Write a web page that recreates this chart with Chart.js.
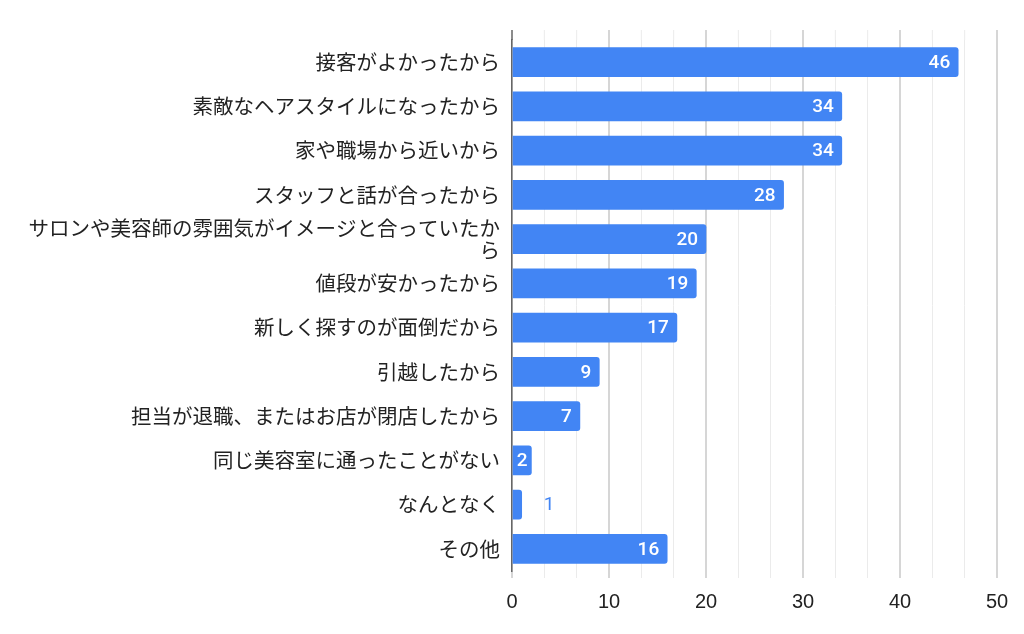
<!DOCTYPE html>
<html>
<head>
<meta charset="utf-8">
<script src="https://cdn.jsdelivr.net/npm/chart.js@4"></script>
<style>
  html, body { margin: 0; padding: 0; background: #fff; }
  #wrap { width: 1024px; height: 634px; }
</style>
</head>
<body>
<div id="wrap"><canvas id="reasons"></canvas></div>
<script>
// data
var categories = [
  '接客がよかったから',
  '素敵なヘアスタイルになったから',
  '家や職場から近いから',
  'スタッフと話が合ったから',
  ['サロンや美容師の雰囲気がイメージと合っていたか', 'ら'],
  '値段が安かったから',
  '新しく探すのが面倒だから',
  '引越したから',
  '担当が退職、またはお店が閉店したから',
  '同じ美容室に通ったことがない',
  'なんとなく',
  'その他'
];
var counts = [46, 34, 34, 28, 20, 19, 17, 9, 7, 2, 1, 16];
var axisMax = 50;
var tickStep = 10 / 3;

var BLUE = '#4285f4';
var TEXT = '#222222';

function isMajor(v) {
  return Math.abs(v / 10 - Math.round(v / 10)) < 1e-6;
}

// value labels, white inside the bar or blue beside it
var valueLabels = {
  id: 'valueLabels',
  afterDatasetsDraw: function (chart) {
    var ctx = chart.ctx;
    var meta = chart.getDatasetMeta(0);
    ctx.save();
    ctx.textBaseline = 'middle';
    meta.data.forEach(function (bar, i) {
      var txt = String(counts[i]);
      ctx.font = '500 19px Roboto, "Liberation Sans", sans-serif';
      var w = ctx.measureText(txt).width;
      var barW = bar.x - bar.base;
      if (barW >= w + 16) {
        ctx.fillStyle = '#ffffff';
        ctx.textAlign = 'right';
        ctx.fillText(txt, bar.x - 8, bar.y + 1);
      } else if (barW >= w + 4) {
        ctx.fillStyle = '#ffffff';
        ctx.textAlign = 'center';
        ctx.fillText(txt, bar.base + barW / 2, bar.y + 1);
      } else {
        ctx.font = '19px Roboto, "Liberation Sans", sans-serif';
        ctx.fillStyle = BLUE;
        ctx.textAlign = 'left';
        ctx.fillText(txt, bar.x + 22, bar.y + 1);
      }
    });
    ctx.restore();
  }
};

// grid lines run a bit above the first bar
var gridTop = {
  id: 'gridTop',
  beforeDatasetsDraw: function (chart) {
    var ctx = chart.ctx;
    var x = chart.scales.x;
    var top = chart.chartArea.top;
    ctx.save();
    x.ticks.forEach(function (t) {
      if (t.value === 0) return;
      var px = x.getPixelForValue(t.value);
      var major = isMajor(t.value);
      ctx.strokeStyle = major ? '#d6d6d6' : '#ebebeb';
      ctx.lineWidth = major ? 2 : 1;
      ctx.beginPath();
      ctx.moveTo(px, top - 10);
      ctx.lineTo(px, top);
      ctx.stroke();
    });
    // axis line above as well
    ctx.strokeStyle = '#666666';
    ctx.lineWidth = 1.5;
    ctx.beginPath();
    ctx.moveTo(x.getPixelForValue(0), top - 10);
    ctx.lineTo(x.getPixelForValue(0), top);
    ctx.stroke();
    ctx.restore();
  }
};

var ctx = document.getElementById('reasons').getContext('2d');
var chart = new Chart(ctx, {
  type: 'bar',
  data: {
    labels: categories,
    datasets: [{
      data: counts,
      backgroundColor: BLUE,
      borderRadius: 3,
      borderSkipped: 'start',
      barThickness: 29
    }]
  },
  options: {
    indexAxis: 'y',
    responsive: true,
    maintainAspectRatio: false,
    animation: false,
    layout: { padding: { top: 40, right: 27, bottom: 8, left: 0 } },
    plugins: {
      legend: { display: false },
      tooltip: { enabled: false }
    },
    scales: {
      x: {
        min: 0,
        max: axisMax,
        ticks: {
          stepSize: tickStep,
          color: TEXT,
          padding: 12,
          font: { family: '"Liberation Sans", Arial, sans-serif', size: 20 },
          autoSkip: false,
          maxRotation: 0,
          callback: function (v) { return isMajor(v) ? Math.round(v) : ''; }
        },
        grid: {
          drawTicks: true,
          tickLength: 7,
          color: function (c) { return isMajor(c.tick.value) ? '#d6d6d6' : '#ebebeb'; },
          tickColor: function (c) { return isMajor(c.tick.value) ? '#d6d6d6' : '#ebebeb'; },
          lineWidth: function (c) { return isMajor(c.tick.value) ? 2 : 1; }
        },
        border: { display: false }
      },
      y: {
        offset: true,
        afterFit: function (scale) { scale.width = 512; },
        ticks: {
          color: TEXT,
          padding: 12,
          autoSkip: false,
          font: { family: '"Noto Sans CJK JP", sans-serif', size: 20.5, lineHeight: 1.1 }
        },
        grid: { display: false, drawTicks: false },
        border: { display: true, color: '#666666', width: 1.5 }
      }
    }
  },
  plugins: [valueLabels, gridTop]
});
</script>
</body>
</html>
